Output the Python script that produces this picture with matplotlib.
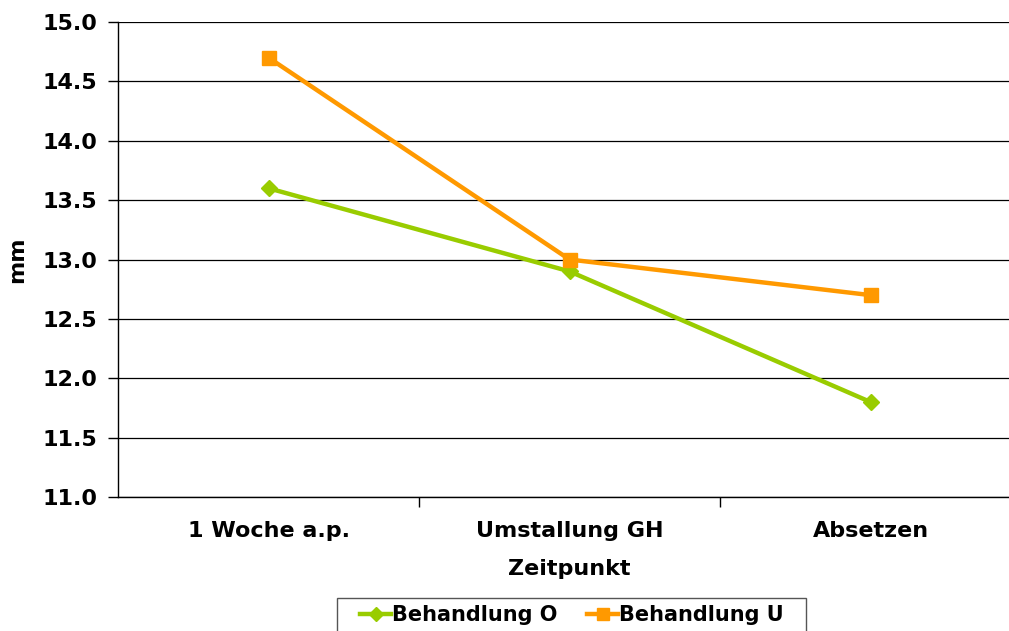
import matplotlib
matplotlib.use("Agg")
import matplotlib.pyplot as plt
from matplotlib.patches import Rectangle
import numpy as np

# Daten
zeitpunkte = ['1 Woche a.p.', 'Umstallung GH', 'Absetzen']
behandlung_o = [13.6, 12.9, 11.8]
behandlung_u = [14.7, 13.0, 12.7]
y_ticks = [11.0, 11.5, 12.0, 12.5, 13.0, 13.5, 14.0, 14.5, 15.0]

plt.rcParams['font.family'] = ['DejaVu Sans']
plt.rcParams['font.weight'] = 'bold'
fs = 16
W, H = 1009, 631

fig = plt.figure(figsize=(W / 100, H / 100), dpi=100)
# rechter Rand liegt ausserhalb des Bildes (wie im Original abgeschnitten)
ax = fig.add_axes([118 / W, 1 - 497 / H, 903 / W, 475 / H])

x = np.arange(len(zeitpunkte))
ax.plot(x, behandlung_o, color='#99CC00', lw=3.2, marker='D', ms=8,
        label='Behandlung O', zorder=3)
ax.plot(x, behandlung_u, color='#FF9900', lw=3.2, marker='s', ms=10,
        label='Behandlung U', zorder=3)

ax.set_xlim(-0.5, 2.5)
ax.set_ylim(11.0, 15.0)
ax.set_yticks(y_ticks)
ax.set_yticklabels(['%.1f' % v for v in y_ticks])
ax.set_xticks(x)
ax.set_xticklabels(zeitpunkte)
ax.set_xticks([0.5, 1.5], minor=True)
ax.tick_params(axis='x', which='major', length=0, pad=17, labelsize=fs)
ax.tick_params(axis='x', which='minor', length=7, width=1, direction='out')
ax.tick_params(axis='y', length=7, width=1, direction='out', labelsize=fs, pad=8)

ax.grid(axis='y', color='black', lw=0.9)
ax.set_axisbelow(True)
for s in ['top', 'right']:
    ax.spines[s].set_visible(False)
ax.spines['left'].set_linewidth(1)
ax.spines['bottom'].set_linewidth(1)

ax.set_xlabel('Zeitpunkt', fontsize=fs, fontweight='bold', labelpad=13)
ax.set_ylabel('mm', fontsize=fs, fontweight='bold', labelpad=11)

# Legendenrahmen separat (unten abgeschnitten wie im Original)
fig.patches.append(Rectangle((337 / W, 1 - 640 / H), 469 / W, 42 / H,
                             transform=fig.transFigure, fill=False,
                             edgecolor='#555555', lw=1))
leg = fig.legend(loc='upper center', bbox_to_anchor=(572 / W, 1 - 592 / H),
                 ncol=2, frameon=False, fontsize=15,
                 handlelength=1.5, handletextpad=0.05, columnspacing=1.4,
                 borderpad=0.12, markerscale=0.9)

fig.savefig('out.png', dpi=100)
